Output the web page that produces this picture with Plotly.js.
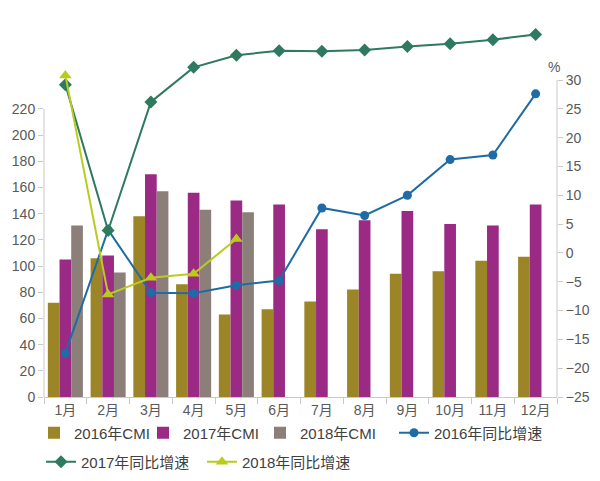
<!DOCTYPE html>
<html>
<head>
<meta charset="utf-8">
<script src="https://cdn.plot.ly/plotly-3.0.1.min.js"></script>
<style>html,body{margin:0;padding:0;background:#fff;}#chart{width:600px;height:481px;}</style>
</head>
<body>
<div id="chart"></div>
<script>
const months = ['1月','2月','3月','4月','5月','6月','7月','8月','9月','10月','11月','12月'];
const cmi2016 = [72, 106, 138, 86, 63, 67, 73, 82, 94, 96, 104, 107];
const cmi2017 = [105, 108, 170, 156, 150, 147, 128, 135, 142, 132, 131, 147];
const cmi2018 = [131, 95, 157, 143, 141];
const growth2016 = [-17.4, 4.0, -6.9, -7.0, -5.6, -4.8, 7.8, 6.5, 10.0, 16.2, 17.0, 27.6];
const growth2017 = [29.2, 3.9, 26.2, 32.2, 34.3, 35.1, 35.0, 35.2, 35.8, 36.3, 37.0, 37.9];
const growth2018 = [30.8, -7.2, -4.3, -3.6, 2.4];
const leftTicks = [0, 20, 40, 60, 80, 100, 120, 140, 160, 180, 200, 220];
const rightTicks = [-25, -20, -15, -10, -5, 0, 5, 10, 15, 20, 25, 30];

const FONT = 'Liberation Sans, Arial, "Noto Sans CJK SC", sans-serif';
const AXC = '#c9c9c9';
const TXT = '#595959';

const traces = [
  {type:'bar', name:'2016年CMI', x:months, y:cmi2016, marker:{color:'#9C8526'}, yaxis:'y', legend:'legend'},
  {type:'bar', name:'2017年CMI', x:months, y:cmi2017, marker:{color:'#9A2A84'}, yaxis:'y', legend:'legend2'},
  {type:'bar', name:'2018年CMI', x:months.slice(0, cmi2018.length), y:cmi2018, marker:{color:'#8C7F79'}, yaxis:'y', legend:'legend3'},
  {type:'scatter', mode:'lines+markers', name:'2016年同比增速', x:months, y:growth2016, yaxis:'y2', legend:'legend4',
   line:{color:'#1E6BA6', width:2}, marker:{symbol:'circle', size:9, color:'#1E6BA6'}},
  {type:'scatter', mode:'lines+markers', name:'2017年同比增速', x:months, y:growth2017, yaxis:'y2', legend:'legend5',
   line:{color:'#2E7A5E', width:2}, marker:{symbol:'diamond', size:10, color:'#2E7A5E'}},
  {type:'scatter', mode:'lines+markers', name:'2018年同比增速', x:months.slice(0, growth2018.length), y:growth2018, yaxis:'y2', legend:'legend6',
   line:{color:'#B9CC1E', width:2}, marker:{symbol:'triangle-up', size:11, color:'#B9CC1E'}}
];

function leg(xpx, ypx) {
  return {orientation:'h', xref:'container', yref:'container', x:xpx/600, xanchor:'left',
          y:1 - ypx/481, yanchor:'middle', font:{family:FONT, size:15, color:'#404040'},
          bgcolor:'rgba(0,0,0,0)', borderwidth:0, itemwidth:30};
}

const layout = {
  width:600, height:481,
  margin:{l:44, r:43, t:25, b:84, autoexpand:false},
  paper_bgcolor:'#fff', plot_bgcolor:'#fff',
  font:{family:FONT, size:14, color:TXT},
  barmode:'group', bargap:0.18, bargroupgap:0,
  showlegend:true,
  legend:leg(34, 433), legend2:leg(143, 433), legend3:leg(260, 433), legend4:leg(394, 433),
  legend5:leg(41, 462), legend6:leg(202, 462),
  xaxis:{type:'category', range:[-0.5, 11.5], automargin:false, showline:true, linecolor:AXC, linewidth:1, ticks:'outside', tickson:'boundaries',
         ticklen:6, tickcolor:AXC, showgrid:false, zeroline:false, tickfont:{size:14, color:TXT}},
  yaxis:{range:[0, 284], automargin:false, tickvals:leftTicks, showline:false, ticks:'outside', ticklen:5, tickcolor:AXC,
         showgrid:false, zeroline:false, tickfont:{size:14, color:TXT}},
  yaxis2:{overlaying:'y', side:'right', automargin:false, range:[-25, 39.55], tickvals:rightTicks, showline:false,
          ticks:'outside', ticklen:5, tickcolor:AXC, showgrid:false, zeroline:false, tickfont:{size:14, color:TXT}},
  shapes:[
    {type:'line', xref:'paper', yref:'y', x0:0, x1:0, y0:0, y1:220, line:{color:AXC, width:1}, layer:'below'},
    {type:'line', xref:'paper', yref:'y2', x0:1, x1:1, y0:-25, y1:30, line:{color:AXC, width:1}, layer:'below'}
  ],
  annotations:[
    {text:'%', xref:'paper', yref:'paper', x:0.994, y:0.887, showarrow:false, xanchor:'center', yanchor:'middle',
     font:{family:FONT, size:14, color:TXT}}
  ]
};

Plotly.newPlot('chart', traces, layout, {displayModeBar:false, staticPlot:true});
</script>
</body>
</html>
